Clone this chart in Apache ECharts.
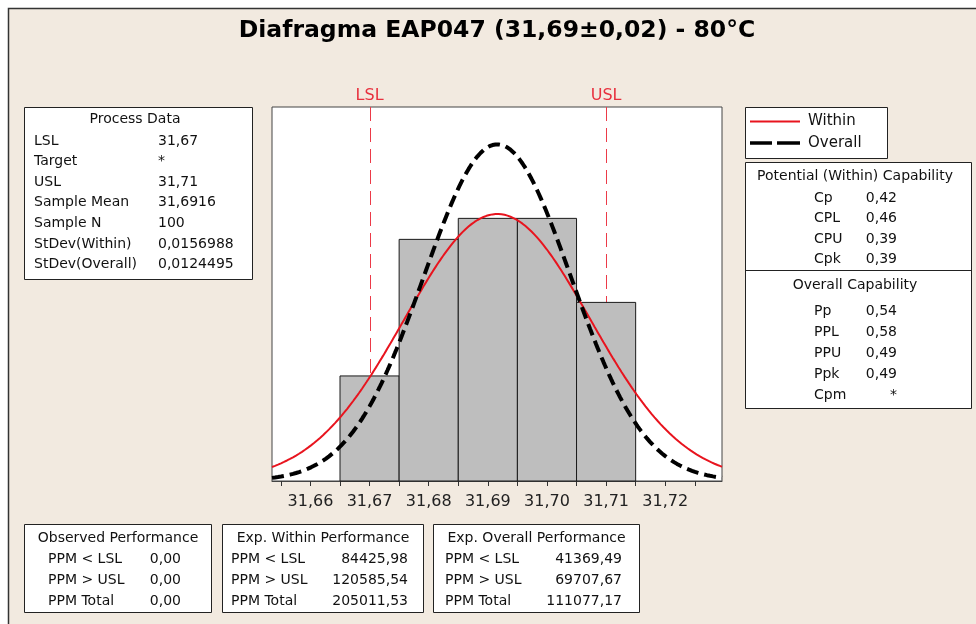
<!DOCTYPE html>
<html>
<head>
<meta charset="utf-8">
<script src="https://cdn.jsdelivr.net/npm/echarts@6/dist/echarts.min.js"></script>
<style>
  html, body { margin: 0; padding: 0; background: #ffffff; }
  #chart { width: 976px; height: 624px; }
</style>
</head>
<body>
<div id="chart"></div>
<script>
// ---------- data ----------
const chartTitle = 'Diafragma EAP047 (31,69±0,02) - 80°C';
const binCenters = [31.67, 31.68, 31.69, 31.70, 31.71];
const binCounts = [10, 23, 25, 25, 17];
const binWidth = 0.01;
const specValues = [31.67, 31.71];
const specLabels = ['LSL', 'USL'];
const sampleMean = 31.6916;
const sampleN = 100;
const stdevWithin = 0.0156988;
const stdevOverall = 0.0124495;
const xMin = 31.6535;
const xMax = 31.7296;
const yMax = 35.6;

const processLabels = ['LSL', 'Target', 'USL', 'Sample Mean', 'Sample N', 'StDev(Within)', 'StDev(Overall)'];
const processValues = ['31,67', '*', '31,71', '31,6916', '100', '0,0156988', '0,0124495'];
const withinLabels = ['Cp', 'CPL', 'CPU', 'Cpk'];
const withinValues = ['0,42', '0,46', '0,39', '0,39'];
const overallLabels = ['Pp', 'PPL', 'PPU', 'Ppk', 'Cpm'];
const overallValues = ['0,54', '0,58', '0,49', '0,49', '*'];
const perfLabels = ['PPM < LSL', 'PPM > USL', 'PPM Total'];
const observedValues = ['0,00', '0,00', '0,00'];
const expWithinValues = ['84425,98', '120585,54', '205011,53'];
const expOverallValues = ['41369,49', '69707,67', '111077,17'];

// fitted normal curves from the displayed statistics (mean, stdev, N, bin width)
function normalCurve(sd) {
  const pts = [];
  const steps = 300;
  for (let i = 0; i <= steps; i++) {
    const x = xMin + (xMax - xMin) * i / steps;
    const z = (x - sampleMean) / sd;
    pts.push([x, sampleN * binWidth * Math.exp(-0.5 * z * z) / (sd * Math.sqrt(2 * Math.PI))]);
  }
  return pts;
}
const withinCurve = normalCurve(stdevWithin);
const overallCurve = normalCurve(stdevOverall);

// ---------- drawing ----------
const FONT = 'DejaVu Sans';
const TXT = '#111';
function box(x, y, w, h) {
  return { type: 'rect', shape: { x: x, y: y, width: w, height: h }, style: { fill: '#ffffff', stroke: '#222', lineWidth: 1 }, z: 10 };
}
function txt(x, y, s, align, size, color, weight) {
  return { type: 'text', x: x, y: y, z: 11,
    style: { text: s, textAlign: align || 'left', textVerticalAlign: 'middle',
      font: (weight || 'normal') + ' ' + (size || 14) + 'px "' + FONT + '"', fill: color || TXT } };
}
function hline(x1, x2, y, color, w, dash) {
  return { type: 'line', z: 11, shape: { x1: x1, y1: y, x2: x2, y2: y },
    style: { stroke: color, lineWidth: w, lineDash: dash || null } };
}

const graphics = [];
// white strip + panel border
graphics.push({ type: 'rect', z: -1, shape: { x: 0, y: 0, width: 976, height: 8 }, style: { fill: '#ffffff' } });
graphics.push({ type: 'rect', z: -1, shape: { x: 0, y: 0, width: 8, height: 624 }, style: { fill: '#ffffff' } });
graphics.push({ type: 'polyline', z: 0, shape: { points: [[8.5, 624], [8.5, 8.5], [976, 8.5]] }, style: { stroke: '#333', lineWidth: 1.5, fill: null } });
// title
graphics.push(txt(497, 31, chartTitle, 'center', 23.5, '#000', 'bold'));

// Process Data
graphics.push(box(24.5, 107.5, 228, 172));
graphics.push(txt(135, 119, 'Process Data', 'center'));
processLabels.forEach((l, i) => {
  const y = 141 + i * 20.6;
  graphics.push(txt(34, y, l, 'left'));
  graphics.push(txt(158, y, processValues[i], 'left'));
});

// Legend
graphics.push(box(745.5, 107.5, 142, 51));
graphics.push(hline(750, 800, 121.5, '#e8141e', 2));
graphics.push(txt(808, 121, 'Within', 'left', 15));
graphics.push(hline(750, 772, 143, '#000', 3.5));
graphics.push(hline(777, 800, 143, '#000', 3.5));
graphics.push(txt(808, 143, 'Overall', 'left', 15));

// Capability
graphics.push(box(745.5, 162.5, 226, 246));
graphics.push(hline(745.5, 971.5, 270.5, '#222', 1));
graphics.push(txt(855, 176, 'Potential (Within) Capability', 'center'));
withinLabels.forEach((l, i) => {
  const y = 198 + i * 20.6;
  graphics.push(txt(814, y, l, 'left'));
  graphics.push(txt(897, y, withinValues[i], 'right'));
});
graphics.push(txt(855, 285, 'Overall Capability', 'center'));
overallLabels.forEach((l, i) => {
  const y = 311 + i * 21;
  graphics.push(txt(814, y, l, 'left'));
  graphics.push(txt(897, y, overallValues[i], 'right'));
});

// Performance boxes
const perfBoxes = [
  { x: 24.5, w: 187, title: 'Observed Performance', values: observedValues, lx: 48, vx: 181 },
  { x: 222.5, w: 201, title: 'Exp. Within Performance', values: expWithinValues, lx: 231, vx: 408 },
  { x: 433.5, w: 206, title: 'Exp. Overall Performance', values: expOverallValues, lx: 445, vx: 622 }
];
perfBoxes.forEach(b => {
  graphics.push(box(b.x, 524.5, b.w, 88));
  graphics.push(txt(b.x + b.w / 2, 538, b.title, 'center'));
  perfLabels.forEach((l, i) => {
    const y = 559 + i * 21;
    graphics.push(txt(b.lx, y, l, 'left'));
    graphics.push(txt(b.vx, y, b.values[i], 'right'));
  });
});

const chart = echarts.init(document.getElementById('chart'), null, { renderer: 'canvas' });
const option = {
  backgroundColor: '#F2EAE0',
  animation: false,
  grid: { left: 272, top: 107, width: 450, height: 374, show: true, backgroundColor: '#ffffff', borderColor: '#444', borderWidth: 1 },
  xAxis: {
    type: 'value', min: xMin, max: xMax, splitNumber: 15, minInterval: 0.005, maxInterval: 0.005,
    axisLine: { show: true, lineStyle: { color: '#444', width: 1 } },
    axisTick: { show: true, length: 5, lineStyle: { color: '#333' } },
    splitLine: { show: false },
    axisLabel: {
      showMinLabel: false, showMaxLabel: false, margin: 13,
      fontFamily: FONT, fontSize: 16, color: '#222',
      formatter: function (v) {
        if (Math.abs(v * 100 - Math.round(v * 100)) > 1e-6) return '';
        return v.toFixed(2).replace('.', ',');
      }
    }
  },
  yAxis: { type: 'value', min: 0, max: yMax, show: false, splitLine: { show: false } },
  graphic: graphics,
  series: [
    {
      type: 'custom', name: 'spec', z: 1, clip: false,
      data: specValues.map(v => [v, 0]),
      renderItem: function (params, api) {
        const v = api.value(0);
        const top = api.coord([v, yMax]);
        const bot = api.coord([v, 0]);
        const px = Math.round(top[0]) + 0.5;
        return { type: 'group', children: [
          { type: 'line', shape: { x1: px, y1: top[1], x2: px, y2: bot[1] },
            style: { stroke: '#ec3a48', lineWidth: 1, lineDash: [14, 7] } },
          { type: 'text', x: top[0], y: top[1] - 11,
            style: { text: specLabels[params.dataIndex], textAlign: 'center', textVerticalAlign: 'middle',
              font: '16px "' + FONT + '"', fill: '#e8303e' } }
        ] };
      }
    },
    {
      type: 'custom', name: 'histogram', z: 2,
      data: binCenters.map((c, i) => [c, binCounts[i]]),
      renderItem: function (params, api) {
        const c = api.value(0), n = api.value(1);
        const p0 = api.coord([c - binWidth / 2, n]);
        const p1 = api.coord([c + binWidth / 2, 0]);
        return { type: 'rect', shape: { x: p0[0], y: p0[1], width: p1[0] - p0[0], height: p1[1] - p0[1] },
          style: { fill: '#BEBEBE', stroke: '#1a1a1a', lineWidth: 1 } };
      }
    },
    {
      type: 'line', name: 'Within', z: 3, data: withinCurve, showSymbol: false, smooth: false,
      lineStyle: { color: '#e8141e', width: 2 }
    },
    {
      type: 'line', name: 'Overall', z: 4, data: overallCurve, showSymbol: false, smooth: false,
      lineStyle: { color: '#000', width: 4, type: [12, 6] }
    }
  ]
};
chart.setOption(option);
</script>
</body>
</html>
